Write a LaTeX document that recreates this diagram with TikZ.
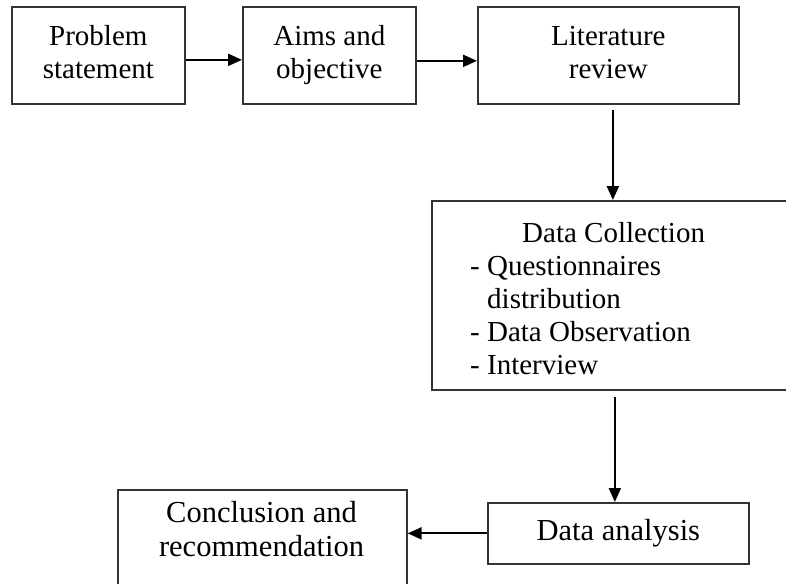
\documentclass[tikz,border=0pt]{standalone}
\usepackage{fontspec}
\setmainfont{Liberation Serif}
\usetikzlibrary{arrows.meta}
\begin{document}
\begin{tikzpicture}[x=1pt,y=-1pt,
  box/.style={draw=black!80, line width=1.7pt, inner sep=0pt, anchor=north west},
  lbl/.style={font=\fontsize{29}{33}\selectfont, align=center, inner sep=0pt},
  big/.style={font=\fontsize{30.5}{34}\selectfont},
  arr/.style={line width=2.2pt, -{Triangle[length=14pt,width=12pt]}}]
\clip (0,0) rectangle (786,583);
\fill[white] (0,0) rectangle (786,583);
\node[box, lbl, minimum width=173pt, minimum height=97pt] (b1) at (11,6) {Problem\strut\\statement\strut};
\node[box, lbl, minimum width=173pt, minimum height=97pt] (b2) at (242,6) {Aims and\strut\\objective\strut};
\node[box, lbl, minimum width=261pt, minimum height=97pt] (b3) at (477,6) {Literature\strut\\review\strut};
\node[box, minimum width=380pt, minimum height=189pt] (b4) at (431,200) {};
\node[lbl, align=left, anchor=north west] (t4) at (470,222)
  {\hspace*{52pt}Data Collection\\- Questionnaires\\\hspace*{17pt}distribution\\- Data Observation\\- Interview};
\node[box, lbl, big, minimum width=261pt, minimum height=61pt] (b5) at (487,502) {Data analysis\strut};
\node[box, minimum width=289pt, minimum height=130pt] (b6) at (117,489) {};
\node[lbl, big] (t6) at (261.5,533) {Conclusion and\strut\\recommendation\strut};
\draw[arr] ([yshift=-4.5pt]b1.east) -- ([yshift=-4.5pt]b2.west);
\draw[arr] ([yshift=-5.5pt]b2.east) -- ([yshift=-5.5pt]b3.west);
\draw[arr, shorten <=5pt] ([xshift=4.5pt]b3.south) -- ([xshift=4.5pt]b3.south |- b4.north);
\draw[arr, shorten <=6pt] ([xshift=-3.5pt]b5.north |- b4.south) -- ([xshift=-3.5pt]b5.north);
\draw[arr] (b5.west) -- (b6.east |- b5.west);
\end{tikzpicture}
\end{document}
